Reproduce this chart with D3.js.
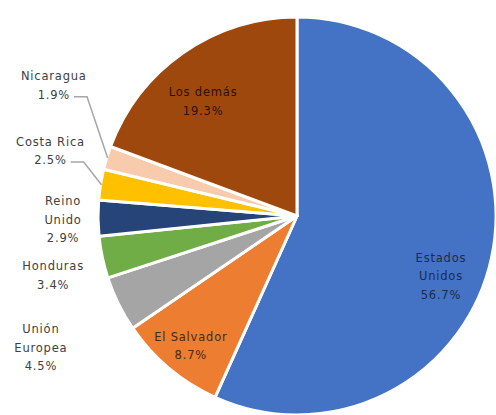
<!DOCTYPE html>
<html>
<head>
<meta charset="utf-8">
<script src="https://cdn.jsdelivr.net/npm/d3@7"></script>
<style>
  body { margin: 0; background: #fff; }
  svg text { font-family: 'DejaVu Sans', sans-serif; font-size: 11.5px; letter-spacing: 0.8px; }
</style>
</head>
<body>
<div id="chart"></div>
<script>
// Data (clockwise from 12 o'clock)
const categories = [ 'Estados Unidos', 'El Salvador', 'Unión Europea', 'Honduras', 'Reino Unido', 'Costa Rica', 'Nicaragua', 'Los demás' ];
const values = [ 56.7, 8.7, 4.5, 3.4, 2.9, 2.5, 1.9, 19.3 ];
const labelLines = [ [ 'Estados', 'Unidos' ], [ 'El Salvador' ], [ 'Unión', 'Europea' ], [ 'Honduras' ], [ 'Reino', 'Unido' ], [ 'Costa Rica' ], [ 'Nicaragua' ], [ 'Los demás' ] ];

const colors = [ '#4472c4', '#ed7d31', '#a5a5a5', '#70ad47', '#264478', '#ffc000', '#f8cbad', '#9e480e' ];

// label placement: distance from centre and angle shift (deg) vs slice middle
const labelPlace = [
  { r: 156, shift: 10.5, fill: '#1c2c4c' },
  { r: 168, shift: -0.8, fill: '#4a2a10' },
  { r: 288, shift: -1,   fill: '#404040' },
  { r: 251, shift: -1.7, fill: '#404040' },
  { r: 234, shift: -0.3, fill: '#404040' },
  { r: 255, shift: 5.7,  fill: '#404040', leader: true },
  { r: 276, shift: 11.2, fill: '#404040', leader: true },
  { r: 148, shift: -4.6, fill: '#2b1200' }
];

const width = 496, height = 415;
const cx = 297, cy = 216, radius = 199;
const lineH = 18.5;

const svg = d3.select( '#chart' )
  .append( 'svg' )
    .attr( 'width', width )
    .attr( 'height', height );

const g = svg.append( 'g' )
  .attr( 'transform', 'translate(' + cx + ',' + cy + ')' );

const data = categories.map( function( c, i ) { return { name: c, value: values[i], i: i }; } );

const pie = d3.pie()
  .sort( null )
  .value( function( d ) { return d.value; } );

const arcs = pie( data );

const arc = d3.arc().innerRadius( 0 ).outerRadius( radius );
const edgeArc = d3.arc().innerRadius( radius - 1 ).outerRadius( radius - 1 );

// slices
g.selectAll( 'path.slice' )
  .data( arcs )
  .enter()
  .append( 'path' )
    .attr( 'class', 'slice' )
    .attr( 'd', arc )
    .attr( 'fill', function( d ) { return colors[d.data.i]; } )
    .attr( 'stroke', '#fff' )
    .attr( 'stroke-width', 3 )
    .attr( 'stroke-linejoin', 'round' );

// labels
arcs.forEach( function( d ) {
  const p = labelPlace[d.data.i];
  const mid = ( d.startAngle + d.endAngle ) / 2 + p.shift * Math.PI / 180;
  const lx = p.r * Math.sin( mid ), ly = -p.r * Math.cos( mid );
  const lines = labelLines[d.data.i].concat( [ d.data.value.toFixed( 1 ) + '%' ] );
  const n = lines.length;

  const t = g.append( 'text' )
    .attr( 'text-anchor', 'middle' )
    .attr( 'fill', p.fill );
  lines.forEach( function( s, k ) {
    t.append( 'tspan' )
      .attr( 'x', lx )
      .attr( 'y', ly + ( k - ( n - 1 ) / 2 ) * lineH )
      .attr( 'dy', '0.35em' )
      .text( s );
  });

  if ( p.leader ) {
    const last = t.selectAll( 'tspan' ).nodes()[n - 1];
    const w = last.getComputedTextLength();
    const y0 = ly + ( n - 1 ) / 2 * lineH + 2;
    const x0 = lx + w / 2 + 4;
    const end = edgeArc.centroid( d );
    g.append( 'polyline' )
      .attr( 'points', [ [ x0, y0 ], [ x0 + 13, y0 ], end ].map( function( q ) { return q.join( ',' ); } ).join( ' ' ) )
      .attr( 'fill', 'none' )
      .attr( 'stroke', '#a6a6a6' )
      .attr( 'stroke-width', 1.5 );
  }
});
</script>
</body>
</html>
